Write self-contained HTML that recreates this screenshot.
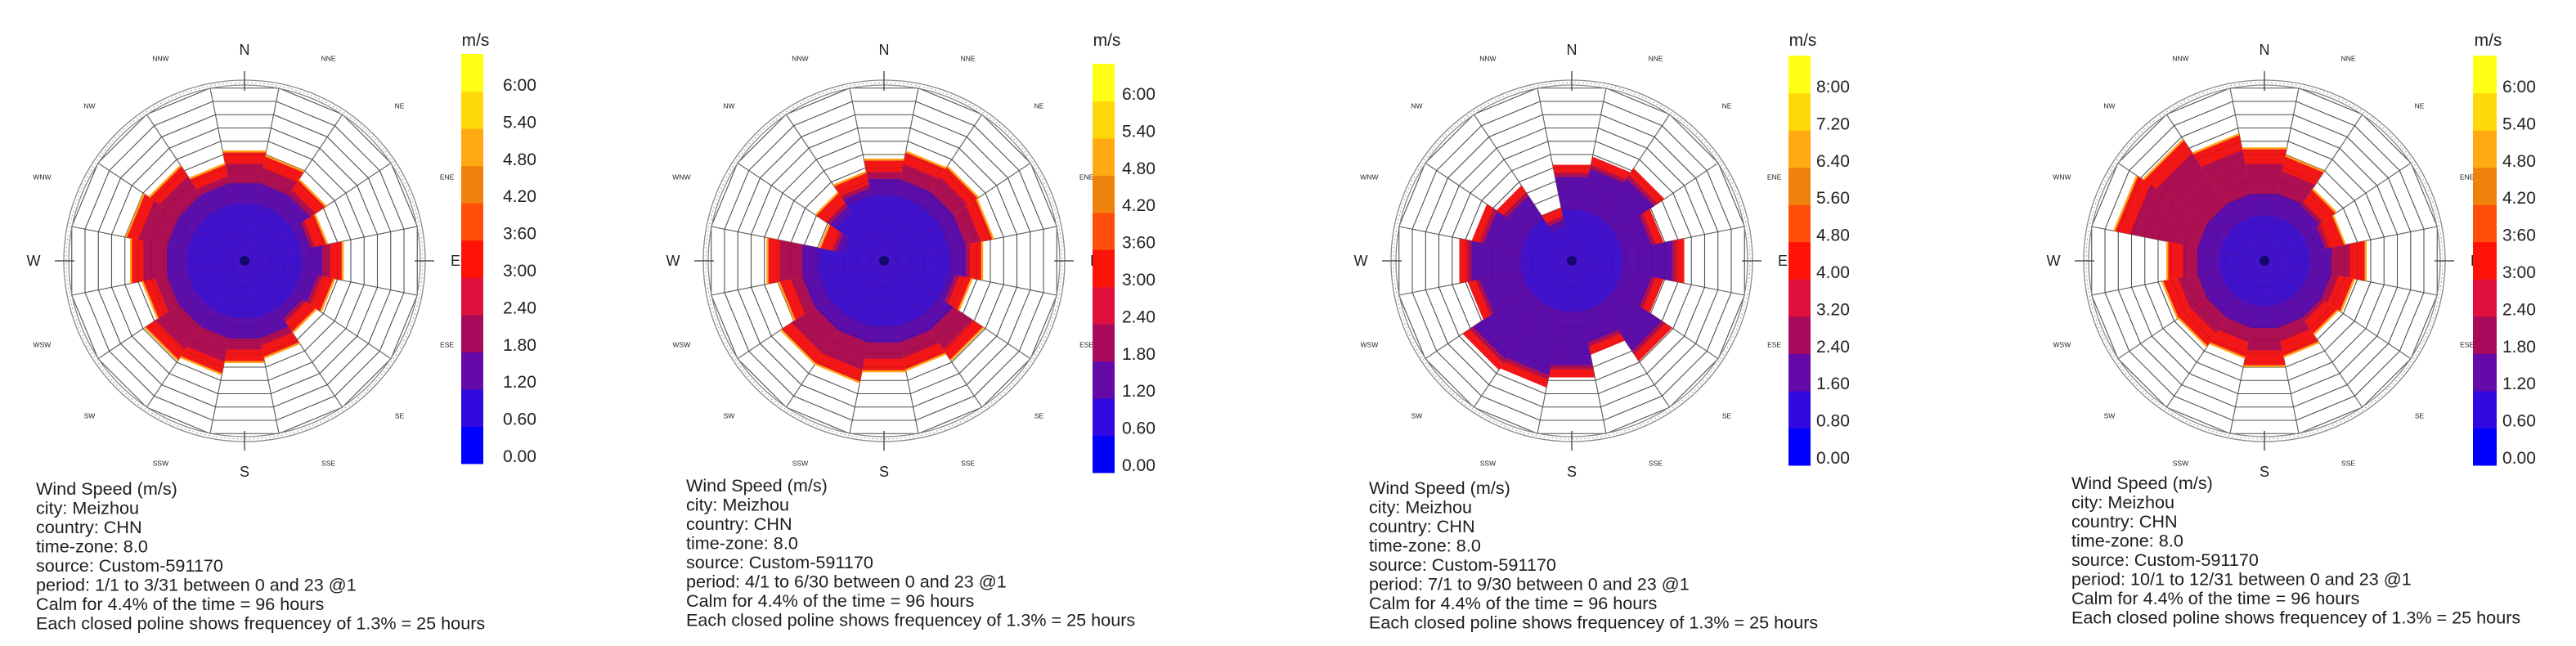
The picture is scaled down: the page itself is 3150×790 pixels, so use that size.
<!DOCTYPE html>
<html><head><meta charset="utf-8">
<style>
html,body{margin:0;padding:0;background:#fff;}
svg{display:block;font-family:"Liberation Sans",Arial,sans-serif;}
</style></head>
<body>
<svg id="chart" width="3150" height="790" viewBox="0 0 3150 790" xmlns="http://www.w3.org/2000/svg"></svg>
<script>
// ---- data ----
const directions = ["N","NNE","NE","ENE","E","ESE","SE","SSE","S","SSW","SW","WSW","W","WNW","NW","NNW"];
// frequency (%) per direction, one array per season
const rose1Values = [10.6,10.2,9.3,8.0,9.5,8.7,8.2,9.4,9.8,11.0,11.4,9.9,11.0,11.5,10.9,9.4];
const rose2Values = [9.8,10.6,10.8,10.6,9.5,8.5,11.4,10.6,10.7,11.8,11.8,10.2,11.3,6.2,7.8,8.6];
const rose3Values = [9.4,10.2,10.7,9.0,11.0,9.0,11.6,9.2,11.4,12.4,12.6,10.2,11.0,9.8,8.7,5.2];
const rose4Values = [10.9,10.2,8.2,7.8,9.8,8.7,8.4,9.3,10.2,9.4,9.8,9.9,9.4,14.6,13.9,12.3];
const scaleLabelsA = ["0.00","0.60","1.20","1.80","2.40","3:00","3:60","4.20","4.80","5.40","6:00"];
const scaleLabelsB = ["0.00","0.80","1.60","2.40","3.20","4.00","4.80","5.60","6.40","7.20","8:00"];
const periods = ["1/1 to 3/31","4/1 to 6/30","7/1 to 9/30","10/1 to 12/31"];
const ringStep = 1.3; // % per closed polyline

// ---- layout/style ----
const NS = "http://www.w3.org/2000/svg";
const svg = document.getElementById("chart");
const PX_PER_PCT = 12.5;
const barColors = ["#0000ff","#3208e0","#640aa8","#a80a5c","#e0103c","#ff1208","#ff4e0a","#ef820c","#ffaa12","#ffd80a","#ffff14"];
const roses = [
  {vals:rose1Values, cx:299, cy:319, bar:{x:564,y:66,w:27,h:501,lx:615}, labels:scaleLabelsA, tx:44, ty:586, indigo:70, purple:95, redW:14, orange:true},
  {vals:rose2Values, cx:1081, cy:319, bar:{x:1336,y:78,w:27,h:500,lx:1372}, labels:scaleLabelsA, tx:839, ty:582, indigo:80, purple:100, redW:14, orange:true},
  {vals:rose3Values, cx:1922, cy:319, bar:{x:2187,y:68,w:27,h:501,lx:2221}, labels:scaleLabelsB, tx:1674, ty:585, indigo:62, purple:999, redW:10, orange:false},
  {vals:rose4Values, cx:2769, cy:319, bar:{x:3024,y:68,w:29,h:501,lx:3060}, labels:scaleLabelsA, tx:2533, ty:579, indigo:55, purple:82, redW:18, orange:true}
];

function mk(tag, attrs, parent){
  const e = document.createElementNS(NS, tag);
  for (const k in attrs) e.setAttribute(k, attrs[k]);
  (parent||svg).appendChild(e);
  return e;
}
function pt(cx, cy, r, deg){
  const a = deg*Math.PI/180;
  return [cx + r*Math.sin(a), cy - r*Math.cos(a)];
}
const HALF = 11.25, COSH = Math.cos(HALF*Math.PI/180);
function sectorPoly(cx, cy, i, r){
  const c = i*22.5;
  const p1 = pt(cx,cy,r/COSH,c-HALF), p2 = pt(cx,cy,r/COSH,c+HALF);
  return cx+","+cy+" "+p1.join(",")+" "+p2.join(",");
}

roses.forEach((R, ri) => {
  const g = mk("g", {});
  
  
  const {cx, cy} = R;
  const nRings = 13;
  const rMax = nRings*ringStep*PX_PER_PCT;

  // grid (under)
  const grid = mk("g", {stroke:"#5a5a5a","stroke-width":"1.1",fill:"none"}, g);
  
  
  for (let k=1;k<=nRings;k++){
    const r = k*ringStep*PX_PER_PCT/COSH;
    let pts=[];
    for (let i=0;i<16;i++) pts.push(pt(cx,cy,r,i*22.5+HALF).join(","));
    mk("polygon",{points:pts.join(" ")},grid);
  }
  for (let i=0;i<16;i++){
    const p = pt(cx,cy,rMax/COSH,i*22.5+HALF);
    mk("line",{x1:cx,y1:cy,x2:p[0],y2:p[1]},grid);
  }
  // outer circles
  const oc = mk("g",{stroke:"#8a8a8a",fill:"none"},g);
  
  
  mk("circle",{cx:cx,cy:cy,r:215,"stroke-width":"1.3"},oc);
  mk("circle",{cx:cx,cy:cy,r:221,"stroke-width":"1.3"},oc);
  mk("circle",{cx:cx,cy:cy,r:218,"stroke-width":"0.8","stroke-dasharray":"2 3"},oc);
  [0,90,180,270].forEach(d=>{
    const a=pt(cx,cy,208,d), b=pt(cx,cy,232,d);
    mk("line",{x1:a[0],y1:a[1],x2:b[0],y2:b[1],"stroke-width":"1.5",stroke:"#555"},oc);
  });

  // data sectors
  R.vals.forEach((v, i) => {
    const sg = mk("g",{},g);
    
    
    const rad = v*PX_PER_PCT;
    if (R.orange) mk("polygon",{points:sectorPoly(cx,cy,i,rad+2.5),fill:"#ffa21a"},sg);
    mk("polygon",{points:sectorPoly(cx,cy,i,rad),fill:"#f21616"},sg);
    const crim = Math.max(rad-R.redW, 0);
    mk("polygon",{points:sectorPoly(cx,cy,i,crim),fill:"#ad1052"},sg);
    const pur = Math.min(R.purple, crim-5);
    mk("polygon",{points:sectorPoly(cx,cy,i,Math.max(pur,0)),fill:"#5c0eaa"},sg);
    const ind = Math.min(R.indigo, pur-8);
    mk("polygon",{points:sectorPoly(cx,cy,i,Math.max(ind,0)),fill:"#4012cc"},sg);
  });
  mk("circle",{cx:cx,cy:cy,r:6,fill:"#12086e"},g);

  // faint grid overlay
  const ov = mk("g",{stroke:"#000",opacity:"0.1","stroke-width":"1",fill:"none"},g);
  for (let k=1;k<=nRings;k++){
    const r = k*ringStep*PX_PER_PCT/COSH;
    let pts=[];
    for (let i=0;i<16;i++) pts.push(pt(cx,cy,r,i*22.5+HALF).join(","));
    mk("polygon",{points:pts.join(" ")},ov);
  }

  // compass labels
  directions.forEach((d,i)=>{
    const card = (i%4===0);
    const p = pt(cx,cy,card?258:268,i*22.5);
    const t = mk("text",{x:p[0],y:p[1]+(card?6:3),"text-anchor":"middle","font-size":card?"18":"8.5",fill:"#222"},g);
    t.textContent = d;
    
    
  });

  // colorbar
  const b = R.bar;
  const cb = mk("g",{},g);
  
  
  const bh = b.h/11;
  barColors.forEach((c,k)=>{
    mk("rect",{x:b.x,y:b.y+b.h-(k+1)*bh,width:b.w,height:bh+0.5,fill:c},cb);
  });
  R.labels.forEach((l,k)=>{
    const t = mk("text",{x:b.lx,y:b.y+b.h-2-k*45.4,"font-size":"21","fill":"#222"},cb);
    t.textContent = l;
    
    
  });
  const u = mk("text",{x:b.x+b.w/2+4,y:56,"text-anchor":"middle","font-size":"21",fill:"#222"},cb);
  u.textContent = "m/s";
  
  

  // info text
  const lines = ["Wind Speed (m/s)","city: Meizhou","country: CHN","time-zone: 8.0","source: Custom-591170",
    "period: "+periods[ri]+" between 0 and 23 @1","Calm for 4.4% of the time  = 96 hours",
    "Each closed poline shows frequencey of 1.3% = 25 hours"];
  const info = mk("g",{},g);
  
  
  lines.forEach((l,k)=>{
    const t = mk("text",{x:R.tx,y:R.ty+19+k*23.5,"font-size":"21.6",fill:"#1e1e1e","xml:space":"preserve"},info);
    t.textContent = l;
  });
});
</script>
</body></html>
